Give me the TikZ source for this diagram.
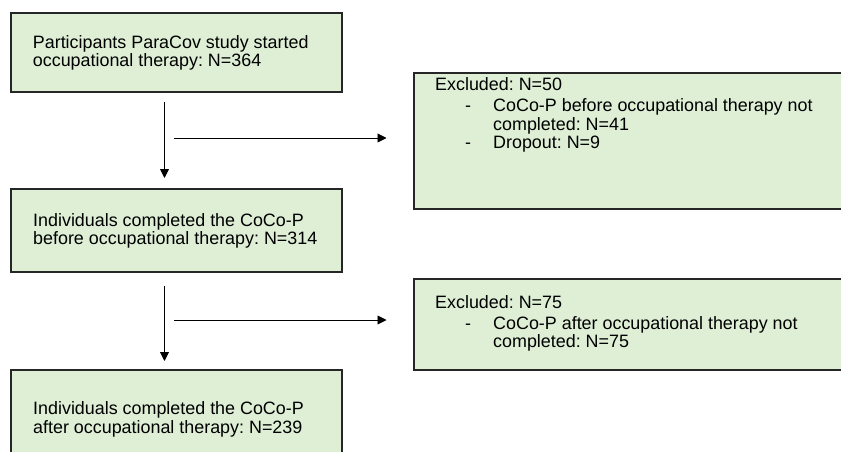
\documentclass[tikz,border=0pt]{standalone}
\usepackage{fontspec}
\setmainfont{Liberation Sans}
\usetikzlibrary{arrows.meta}
\definecolor{boxgreen}{HTML}{DEEFD6}
\tikzset{
  box/.style={draw=black!85, line width=1.2pt, fill=boxgreen, anchor=north west, inner sep=0pt, outer sep=0pt},
  txt/.style={anchor=base west, align=left, inner sep=0pt},
  arr/.style={-{Triangle[width=9pt,length=9pt]}, line width=0.9pt}
}
\newcommand{\bulletdash}{\hspace*{30pt}\makebox[28pt][l]{-}}
\newcommand{\bulletgap}{\hspace*{58pt}}
\frenchspacing

\begin{document}
\begin{tikzpicture}[x=1pt, y=-1pt, font=\fontsize{17.9}{18.5}\selectfont]
   \useasboundingbox (0,0) rectangle (841,452);
   \node[box, minimum width=331pt, minimum height=79pt] (started) at (11,13) {};
   \node[box, minimum width=331pt, minimum height=83pt] (before) at (11,189) {};
   \node[box, minimum width=331pt, minimum height=100pt] (after) at (11,370) {};
   \node[box, minimum width=440pt, minimum height=136pt] (exclA) at (414,73) {};
   \node[box, minimum width=440pt, minimum height=91pt] (exclB) at (414,279) {};
   \node[txt] (startedtxt) at (32.7,66.8) {Participants ParaCov study started\\occupational therapy: N=364};
   \node[txt] (beforetxt) at (33,244.5) {Individuals completed the CoCo-P\\before occupational therapy: N=314};
   \node[txt] (aftertxt) at (33,433) {Individuals completed the CoCo-P\\after occupational therapy: N=239};
   \node[txt] (exclAtxt) at (435,148.5) {Excluded: N=50\\[2.5pt]
      \bulletdash CoCo-P before occupational therapy not\\
      \bulletgap completed: N=41\\
      \bulletdash Dropout: N=9};
   \node[txt] (exclBtxt) at (435,347.5) {Excluded: N=75\\[2.5pt]
      \bulletdash CoCo-P after occupational therapy not\\
      \bulletgap completed: N=75};
   \coordinate (downA1) at (164.5,102);
   \coordinate (downA2) at (164.5,178);
   \coordinate (sideA1) at (174,138);
   \coordinate (sideA2) at (386.5,138);
   \coordinate (downB1) at (164.5,286);
   \coordinate (downB2) at (164.5,361);
   \coordinate (sideB1) at (174,320);
   \coordinate (sideB2) at (386.5,320);
   \draw[arr] (downA1) -- (downA2);
   \draw[arr] (sideA1) -- (sideA2);
   \draw[arr] (downB1) -- (downB2);
   \draw[arr] (sideB1) -- (sideB2);
\end{tikzpicture}
\end{document}
